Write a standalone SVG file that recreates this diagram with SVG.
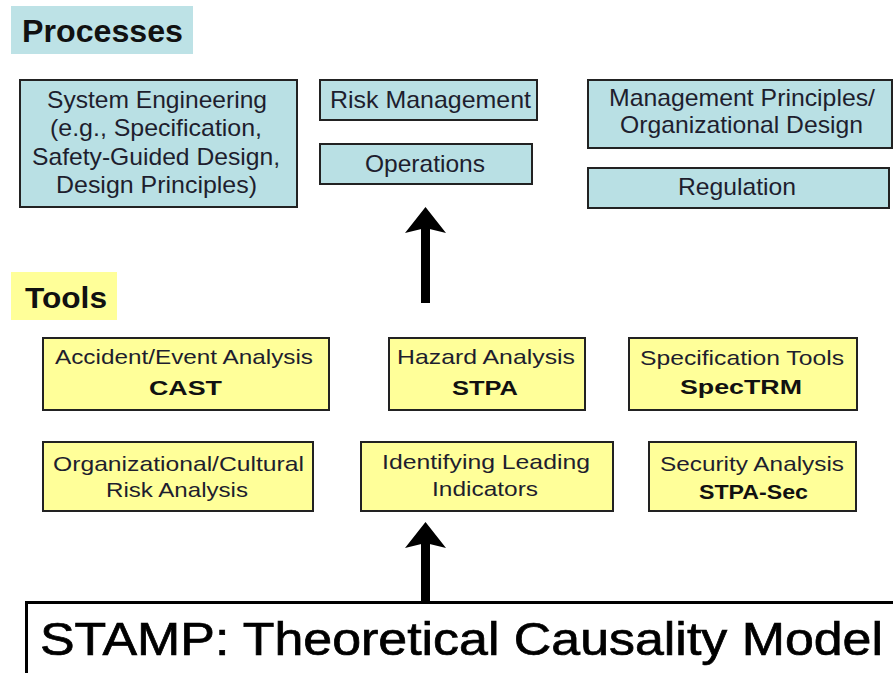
<svg xmlns="http://www.w3.org/2000/svg" width="893" height="673" viewBox="0 0 893 673">
<style>
  .box-p { fill: #b9e0e4; stroke: #222; stroke-width: 2; }
  .box-t { fill: #ffff99; stroke: #222; stroke-width: 2; }
  .t { font-family: "Liberation Sans", Arial, sans-serif; fill: #1e1e2e; text-anchor: middle; }
  .tp { font-size: 24px; }
  .tt { font-size: 21px; }
  .b { font-weight: bold; fill: #111; }
  .hdr { font-family: "Liberation Sans", Arial, sans-serif; font-weight: bold; fill: #111; }
  .conn { stroke: #000; stroke-width: 9; fill: none; }
</style>
<defs>
  <marker id="ah" markerUnits="userSpaceOnUse" markerWidth="27" markerHeight="41" viewBox="0 0 27 41" refX="5" refY="20.5" orient="auto">
    <path d="M0,0 L26,20.5 L0,41 L5,20.5 Z" fill="#000"/>
  </marker>
</defs>
<rect width="893" height="673" fill="#fff"/>

<g id="processes-label">
  <rect x="11" y="6" width="182" height="48" fill="#bde2e6"/>
  <text class="hdr" x="22" y="42" font-size="32" textLength="161" lengthAdjust="spacingAndGlyphs">Processes</text>
</g>

<g id="system-engineering">
  <rect class="box-p" x="20" y="80" width="277" height="127"/>
  <text class="t tp" x="157" y="108" textLength="220" lengthAdjust="spacingAndGlyphs">System Engineering</text>
  <text class="t tp" x="156" y="136" textLength="212" lengthAdjust="spacingAndGlyphs">(e.g., Specification,</text>
  <text class="t tp" x="156" y="165" textLength="248" lengthAdjust="spacingAndGlyphs">Safety-Guided Design,</text>
  <text class="t tp" x="156.5" y="193" textLength="201" lengthAdjust="spacingAndGlyphs">Design Principles)</text>
</g>

<g id="risk-management">
  <rect class="box-p" x="320" y="80" width="217" height="40"/>
  <text class="t tp" x="430.5" y="108" textLength="201" lengthAdjust="spacingAndGlyphs">Risk Management</text>
</g>

<g id="operations">
  <rect class="box-p" x="320" y="144" width="212" height="40"/>
  <text class="t tp" x="425" y="172" textLength="120" lengthAdjust="spacingAndGlyphs">Operations</text>
</g>

<g id="management-principles">
  <rect class="box-p" x="588" y="80" width="304" height="68"/>
  <text class="t tp" x="742" y="106" textLength="266" lengthAdjust="spacingAndGlyphs">Management Principles/</text>
  <text class="t tp" x="741.5" y="133" textLength="243" lengthAdjust="spacingAndGlyphs">Organizational Design</text>
</g>

<g id="regulation">
  <rect class="box-p" x="588" y="168" width="301" height="40"/>
  <text class="t tp" x="737" y="195" textLength="118" lengthAdjust="spacingAndGlyphs">Regulation</text>
</g>

<g id="tools-label">
  <rect x="11" y="272" width="106" height="48" fill="#ffff99"/>
  <text class="hdr" x="25" y="308" font-size="30" textLength="82" lengthAdjust="spacingAndGlyphs">Tools</text>
</g>

<g id="cast">
  <rect class="box-t" x="43" y="338" width="286" height="72"/>
  <text class="t tt" x="184" y="364" textLength="258" lengthAdjust="spacingAndGlyphs">Accident/Event Analysis</text>
  <text class="t tt b" x="185.5" y="395" font-size="22" textLength="73" lengthAdjust="spacingAndGlyphs">CAST</text>
</g>

<g id="stpa">
  <rect class="box-t" x="389" y="338" width="196" height="72"/>
  <text class="t tt" x="486" y="364" textLength="178" lengthAdjust="spacingAndGlyphs">Hazard Analysis</text>
  <text class="t tt b" x="485" y="395" font-size="22" textLength="66" lengthAdjust="spacingAndGlyphs">STPA</text>
</g>

<g id="spectrm">
  <rect class="box-t" x="629" y="338" width="228" height="72"/>
  <text class="t tt" x="742" y="365" textLength="204" lengthAdjust="spacingAndGlyphs">Specification Tools</text>
  <text class="t tt b" x="741" y="394" font-size="22" textLength="122" lengthAdjust="spacingAndGlyphs">SpecTRM</text>
</g>

<g id="org-cultural">
  <rect class="box-t" x="43" y="442" width="270" height="69"/>
  <text class="t tt" x="178.5" y="471" textLength="251" lengthAdjust="spacingAndGlyphs">Organizational/Cultural</text>
  <text class="t tt" x="177" y="497" textLength="142" lengthAdjust="spacingAndGlyphs">Risk Analysis</text>
</g>

<g id="leading-indicators">
  <rect class="box-t" x="361" y="442" width="252" height="69"/>
  <text class="t tt" x="486" y="469" textLength="208" lengthAdjust="spacingAndGlyphs">Identifying Leading</text>
  <text class="t tt" x="485" y="496" textLength="106" lengthAdjust="spacingAndGlyphs">Indicators</text>
</g>

<g id="stpa-sec">
  <rect class="box-t" x="649" y="442" width="207" height="69"/>
  <text class="t tt" x="752" y="471" textLength="184" lengthAdjust="spacingAndGlyphs">Security Analysis</text>
  <text class="t tt b" x="753.5" y="499" font-size="22" textLength="109" lengthAdjust="spacingAndGlyphs">STPA-Sec</text>
</g>

<g id="stamp">
  <rect x="26.5" y="602.5" width="900" height="90" fill="#fff" stroke="#000" stroke-width="3"/>
  <text x="40" y="655" font-family="'Liberation Sans', Arial, sans-serif" font-size="46" fill="#000" stroke="#000" stroke-width="0.7" textLength="843" lengthAdjust="spacingAndGlyphs">STAMP: Theoretical Causality Model</text>
</g>

<g id="connectors">
  <line class="conn" x1="425.5" y1="303" x2="425.5" y2="228" marker-end="url(#ah)"/>
  <line class="conn" x1="425.5" y1="601" x2="425.5" y2="543" marker-end="url(#ah)"/>
</g>
</svg>
